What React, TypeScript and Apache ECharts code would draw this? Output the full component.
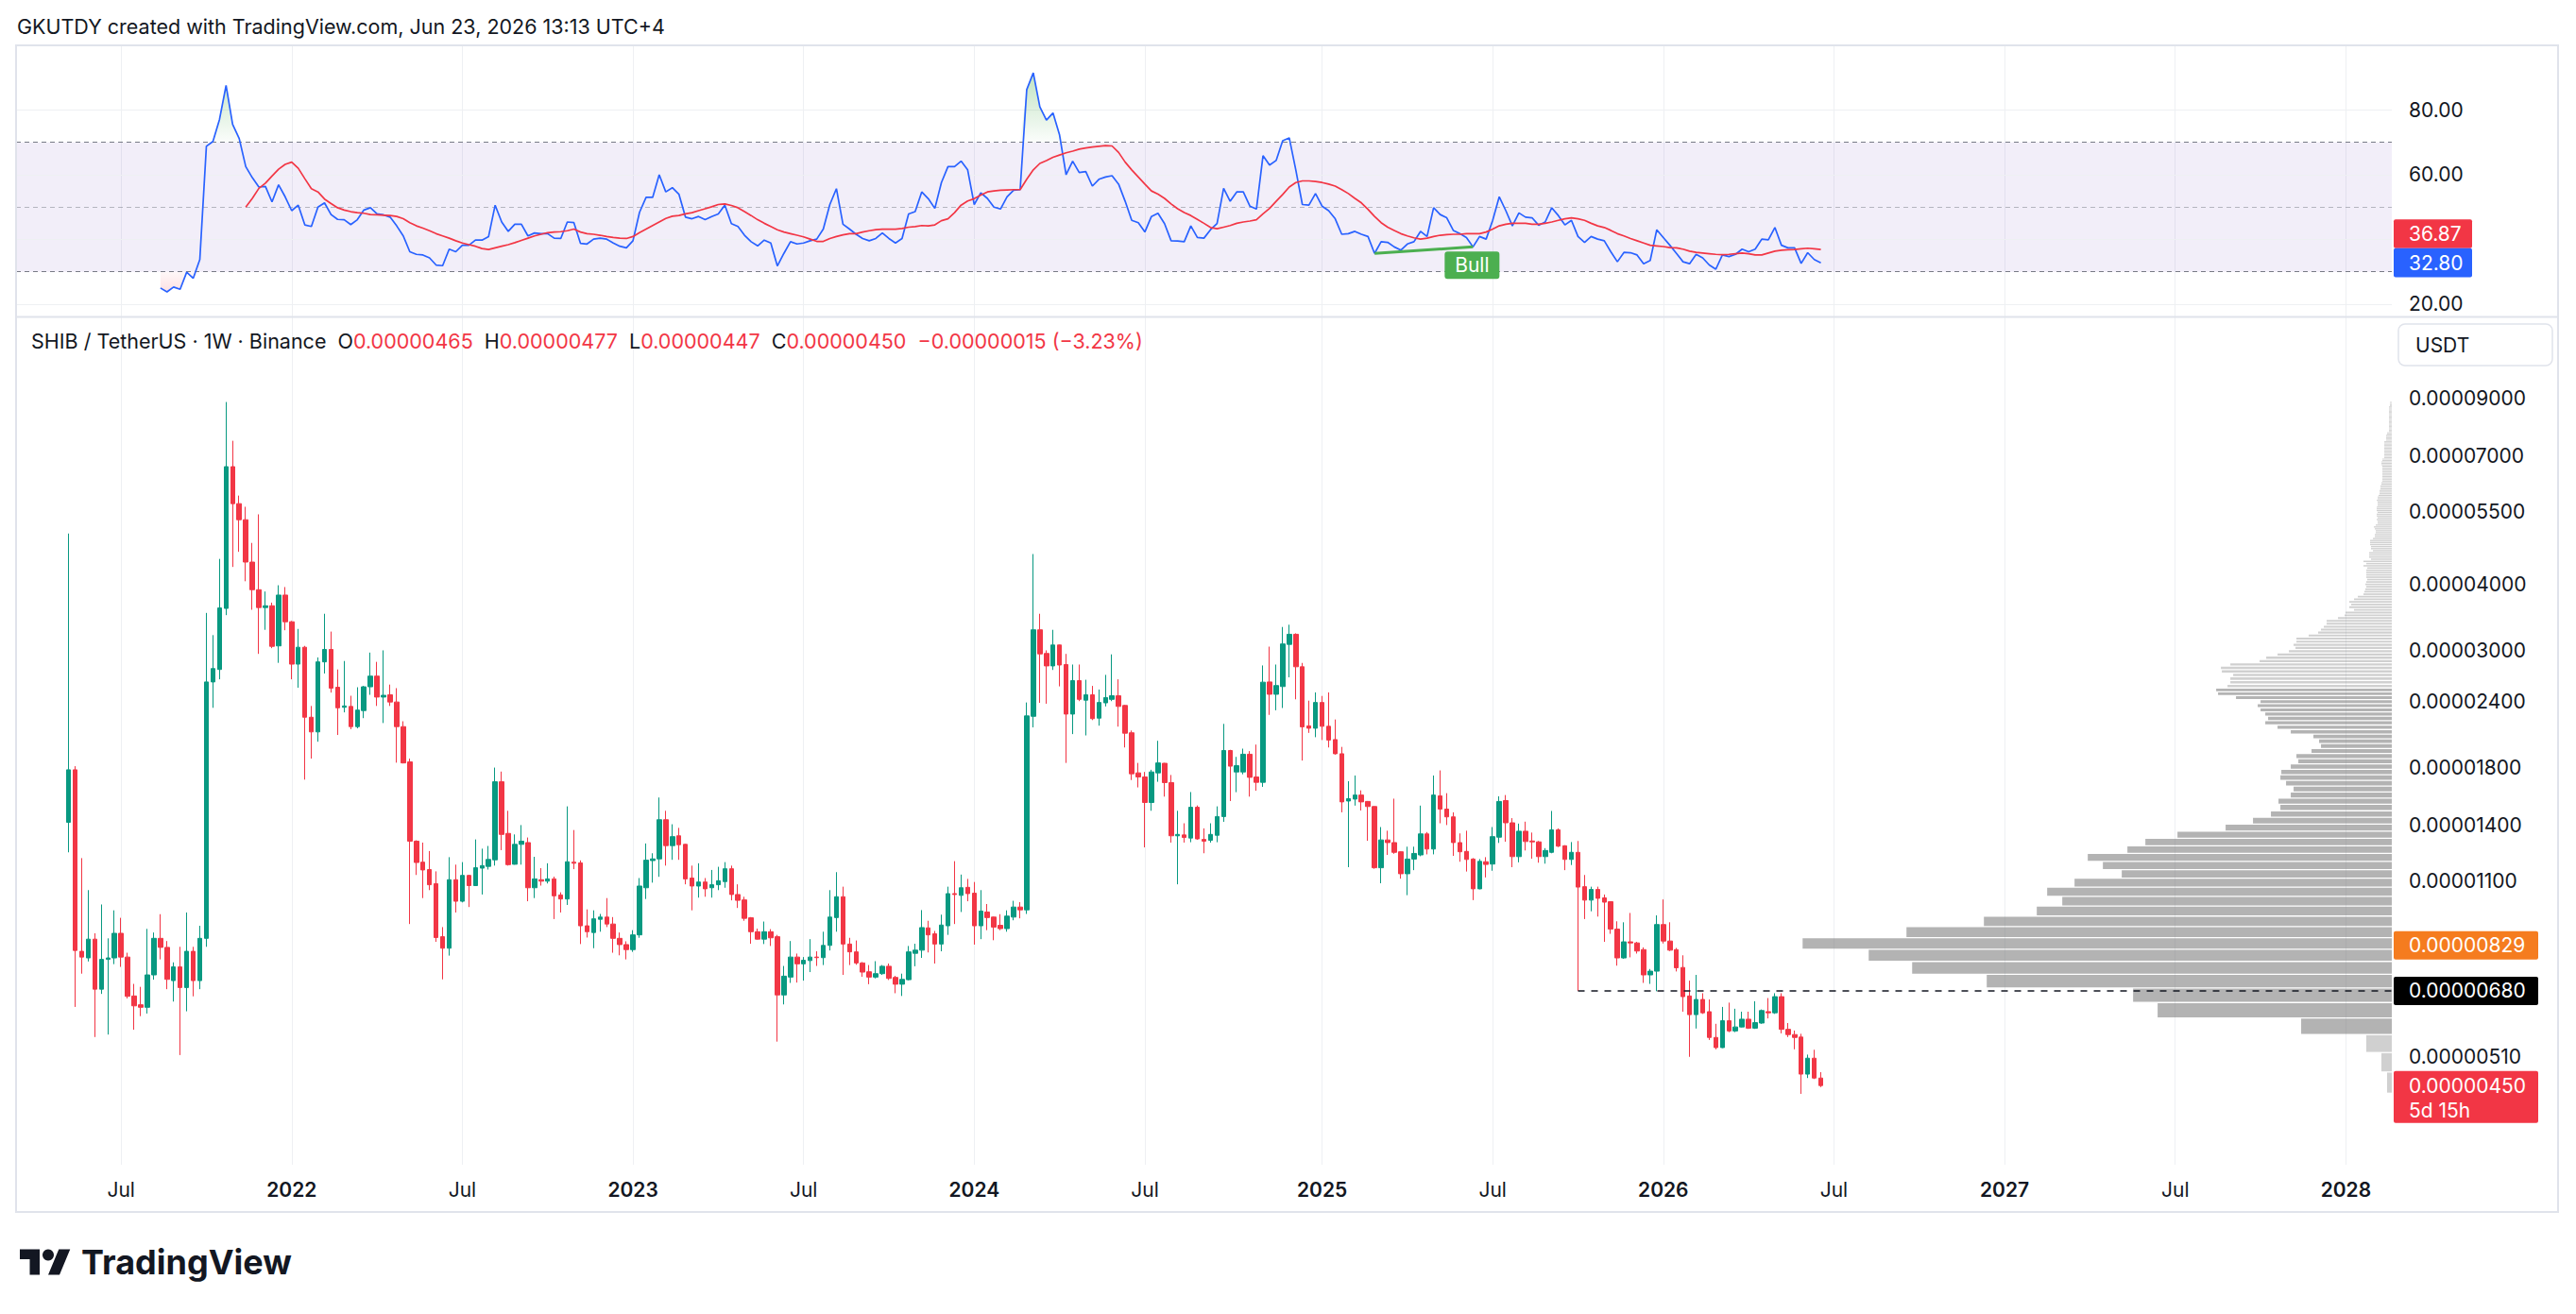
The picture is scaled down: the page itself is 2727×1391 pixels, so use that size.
import React, { useEffect, useRef } from "react";
import * as echarts from "echarts";

// ---------------- data (prices in units of 0.00000001 USDT) ----------------
const PRICE_UNIT = 1e-8;
const FIRST_WEEK = "2021-05-10"; // first weekly candle (Monday)
const LEAD_WEEKS = 8; // empty weekly slots before the first candle
const TRAIL_WEEKS = 87; // empty weekly slots after the last candle

const OPEN = [
  1418, 1783, 808, 785, 852, 685, 780, 785, 874, 788,
  665, 640, 633, 729, 855, 822, 711, 755, 690, 808,
  711, 855, 2615, 2761, 3603, 6685, 5689, 5304, 4410, 3909,
  3617, 3645, 3060, 3819, 3399, 2826, 3042, 2242, 2103, 2854,
  3013, 2555, 2341, 2350, 2152, 2308, 2560, 2682, 2448, 2472,
  2396, 2152, 1845, 1306, 1192, 1154, 1085, 861, 819, 1104,
  1005, 1125, 1076, 1161, 1170, 1204, 1692, 1351, 1181, 1288,
  1298, 1066, 1104, 1097, 1108, 1033, 1015, 1192, 1188, 903,
  877, 929, 938, 910, 855, 832, 814, 868, 1066, 1200,
  1209, 1434, 1281, 1337, 1288, 1112, 1074, 1093, 1066, 1080,
  1095, 1158, 1035, 1011, 935, 880, 852, 880, 861, 668,
  722, 788, 765, 776, 788, 786, 829, 936, 1025, 834,
  806, 768, 739, 722, 733, 757, 721, 700, 714, 801,
  812, 895, 872, 834, 903, 1039, 1031, 1068, 1041, 903,
  959, 938, 905, 892, 938, 980, 968, 2251, 3282, 2961,
  2804, 3072, 2821, 2273, 2630, 2415, 2472, 2233, 2387, 2424,
  2462, 2360, 2095, 1759, 1728, 1546, 1759, 1834, 1686, 1337,
  1342, 1324, 1514, 1316, 1311, 1340, 1454, 1939, 1766, 1766,
  1908, 1728, 1688, 2615, 2478, 2563, 3080, 3219, 2794, 2159,
  2137, 2391, 2155, 2034, 1912, 1556, 1569, 1597, 1553, 1519,
  1163, 1313, 1298, 1247, 1133, 1208, 1230, 1348, 1262, 1591,
  1502, 1452, 1298, 1249, 1208, 1061, 1194, 1182, 1329, 1559,
  1415, 1221, 1364, 1307, 1302, 1221, 1244, 1372, 1280, 1206,
  1244, 1071, 1010, 1058, 1020, 1003, 890, 785, 842, 838,
  814, 729, 741, 908, 845, 814, 753, 665, 613, 655,
  621, 555, 531, 597, 571, 581, 601, 578, 591, 621,
  618, 663, 575, 562, 556, 473, 507, 465,
];
const HIGH = [
  4994, 1811, 1213, 1055, 874, 991, 855, 966, 935, 803,
  701, 692, 891, 877, 950, 845, 770, 824, 957, 824,
  903, 3533, 3207, 4471, 8861, 7483, 5892, 5612, 4794, 5430,
  3879, 3695, 3986, 3955, 3412, 3295, 3060, 2355, 2910, 3520,
  3257, 2761, 2865, 2462, 2555, 2570, 2972, 2854, 3001, 2585,
  2545, 2203, 1872, 1311, 1298, 1251, 1145, 898, 1218, 1179,
  1192, 1127, 1316, 1264, 1279, 1800, 1769, 1491, 1345, 1401,
  1327, 1220, 1161, 1186, 1119, 1045, 1520, 1371, 1201, 970,
  966, 951, 1019, 938, 877, 844, 886, 1112, 1293, 1239,
  1580, 1491, 1406, 1384, 1290, 1174, 1186, 1112, 1152, 1168,
  1192, 1174, 1082, 1025, 938, 892, 920, 890, 868, 758,
  845, 800, 788, 852, 808, 880, 1055, 1141, 1071, 857,
  847, 771, 761, 774, 761, 766, 726, 733, 827, 835,
  967, 923, 883, 948, 1071, 1197, 1129, 1108, 1093, 1055,
  993, 940, 950, 966, 1007, 1001, 2391, 4567, 3520, 3001,
  3282, 3076, 2955, 2821, 2821, 2640, 2570, 2530, 2697, 2949,
  2645, 2365, 2116, 1837, 1766, 1783, 2023, 1837, 1743, 1491,
  1412, 1618, 1526, 1381, 1412, 1520, 2178, 1945, 1886, 1955,
  1934, 1990, 2810, 3050, 2821, 3323, 3356, 3232, 2841, 2410,
  2498, 2460, 2498, 2220, 1970, 1696, 1739, 1630, 1556, 1521,
  1389, 1367, 1572, 1249, 1275, 1275, 1525, 1359, 1739, 1778,
  1610, 1481, 1351, 1367, 1213, 1208, 1218, 1389, 1588, 1597,
  1444, 1410, 1422, 1356, 1307, 1267, 1490, 1381, 1283, 1301,
  1307, 1127, 1071, 1071, 1035, 1005, 921, 917, 955, 842,
  822, 748, 945, 1013, 917, 820, 794, 711, 729, 673,
  655, 589, 634, 646, 629, 621, 621, 650, 627, 659,
  673, 673, 591, 572, 564, 515, 526, 477,
];
const LOW = [
  1244, 634, 733, 773, 556, 671, 562, 764, 755, 658,
  574, 609, 616, 714, 780, 685, 649, 514, 622, 664,
  685, 824, 2336, 2645, 3499, 4317, 4611, 4056, 3582, 2955,
  3282, 3030, 2842, 3276, 2645, 2550, 1708, 1872, 2015, 2713,
  2496, 2075, 2290, 2128, 2136, 2233, 2472, 2355, 2186, 2355,
  1839, 1833, 910, 1127, 1019, 1055, 842, 715, 793, 957,
  1000, 980, 1074, 1035, 1154, 1174, 1256, 1174, 1179, 1179,
  1005, 1019, 1076, 1086, 930, 957, 989, 1156, 834, 858,
  819, 880, 898, 803, 794, 780, 806, 857, 1015, 1090,
  1118, 1174, 1204, 1204, 1082, 966, 1021, 1025, 1021, 1055,
  1066, 1009, 976, 923, 835, 850, 834, 827, 545, 641,
  704, 705, 711, 738, 758, 761, 811, 880, 729, 761,
  762, 723, 700, 718, 729, 713, 673, 665, 712, 757,
  785, 804, 766, 808, 868, 910, 959, 1005, 832, 852,
  886, 848, 886, 880, 925, 933, 951, 2145, 2387, 2378,
  2755, 2565, 1837, 2083, 2405, 2071, 2214, 2161, 2350, 2405,
  2152, 1965, 1705, 1651, 1271, 1491, 1692, 1586, 1298, 1082,
  1298, 1300, 1314, 1239, 1298, 1300, 1421, 1556, 1617, 1748,
  1586, 1627, 1655, 2265, 2311, 2334, 2668, 2424, 1856, 2094,
  2055, 2030, 1965, 1905, 1481, 1166, 1525, 1493, 1308, 1158,
  1087, 1230, 1236, 1109, 1032, 1151, 1223, 1233, 1233, 1412,
  1401, 1225, 1194, 1144, 1010, 1059, 1115, 1148, 1296, 1303,
  1166, 1191, 1254, 1210, 1189, 1184, 1239, 1273, 1151, 1177,
  680, 930, 962, 940, 842, 872, 759, 782, 787, 800,
  704, 701, 679, 836, 809, 740, 621, 510, 577, 615,
  549, 527, 530, 568, 568, 580, 576, 576, 589, 603,
  615, 565, 556, 527, 434, 465, 463, 447,
];
const CLOSE = [
  1783, 811, 788, 852, 685, 780, 785, 874, 788, 664,
  637, 633, 729, 855, 822, 715, 755, 690, 808, 711,
  855, 2615, 2772, 3610, 6685, 5689, 5304, 4410, 3909, 3617,
  3645, 3054, 3819, 3399, 2826, 3042, 2242, 2103, 2854, 3013,
  2545, 2336, 2355, 2152, 2313, 2560, 2682, 2448, 2467, 2396,
  2152, 1837, 1306, 1190, 1152, 1080, 858, 819, 1104, 1005,
  1125, 1076, 1163, 1174, 1206, 1692, 1345, 1179, 1288, 1306,
  1066, 1108, 1097, 1108, 1029, 1015, 1194, 1186, 903, 880,
  931, 938, 910, 855, 832, 814, 868, 1074, 1202, 1209,
  1434, 1281, 1332, 1286, 1108, 1074, 1093, 1061, 1080, 1099,
  1158, 1035, 1009, 933, 880, 852, 880, 857, 668, 725,
  788, 765, 777, 788, 786, 829, 938, 1025, 834, 806,
  768, 738, 722, 733, 757, 718, 700, 715, 806, 812,
  896, 868, 834, 906, 1039, 1035, 1066, 1039, 903, 963,
  936, 898, 892, 942, 980, 968, 2255, 3282, 2955, 2804,
  3072, 2815, 2273, 2630, 2424, 2472, 2228, 2391, 2443, 2462,
  2350, 2091, 1752, 1728, 1546, 1766, 1837, 1686, 1337, 1345,
  1327, 1514, 1319, 1306, 1345, 1454, 1939, 1811, 1815, 1908,
  1725, 1688, 2612, 2478, 2574, 3086, 3219, 2794, 2150, 2137,
  2391, 2155, 2030, 1912, 1550, 1572, 1597, 1550, 1519, 1163,
  1313, 1298, 1244, 1133, 1208, 1238, 1348, 1262, 1597, 1502,
  1452, 1298, 1247, 1206, 1061, 1196, 1180, 1332, 1553, 1415,
  1221, 1364, 1304, 1302, 1221, 1254, 1372, 1278, 1206, 1244,
  1069, 1010, 1058, 1018, 1001, 890, 785, 842, 838, 809,
  729, 741, 908, 845, 812, 752, 663, 613, 655, 618,
  555, 531, 597, 571, 581, 601, 578, 592, 624, 618,
  663, 575, 562, 555, 473, 507, 465, 450,
];

const RSI_START = 14;
const RSI = [
  25.0, 23.8, 25.3, 24.6, 29.9, 28.0, 33.8, 68.8, 70.3, 77.1,
  87.6, 75.6, 71.2, 62.5, 59.1, 56.2, 56.4, 51.6, 56.9, 53.2,
  48.9, 50.6, 44.5, 44.0, 50.0, 51.3, 47.7, 46.2, 46.1, 44.6,
  46.1, 49.1, 49.8, 47.9, 47.6, 46.9, 44.2, 41.1, 36.2, 35.4,
  35.2, 34.3, 32.1, 31.9, 37.0, 36.2, 38.2, 38.2, 39.8, 39.8,
  40.9, 50.6, 45.4, 42.5, 44.7, 44.7, 41.1, 42.0, 41.8, 41.8,
  40.4, 40.3, 45.4, 45.2, 38.8, 38.6, 40.1, 40.4, 40.1, 38.9,
  37.9, 37.4, 39.6, 48.4, 53.0, 53.0, 60.0, 54.7, 56.0, 54.0,
  46.9, 46.4, 47.1, 46.1, 47.1, 47.9, 50.6, 44.9, 44.0, 41.3,
  39.3, 38.0, 39.8, 38.9, 31.8, 35.7, 39.3, 38.6, 38.9, 39.6,
  40.1, 43.2, 50.8, 55.7, 44.7, 43.2, 41.6, 40.3, 39.6, 40.3,
  42.0, 40.3, 38.9, 40.3, 47.9, 48.6, 54.7, 52.6, 49.6, 57.6,
  62.5, 62.5, 64.2, 61.5, 50.8, 54.4, 52.7, 50.0, 49.4, 53.2,
  55.2, 55.4, 86.3, 91.5, 81.0, 76.9, 79.1, 72.3, 60.0, 64.2,
  60.7, 61.0, 56.5, 58.6, 59.3, 59.7, 57.1, 51.8, 45.9, 45.2,
  42.3, 47.1, 48.1, 44.9, 39.6, 39.5, 39.3, 44.2, 40.6, 40.4,
  43.0, 44.9, 55.8, 51.8, 54.7, 54.7, 50.3, 49.4, 65.9, 63.0,
  64.4, 70.5, 71.4, 61.5, 50.8, 50.6, 54.2, 50.3, 48.9, 46.4,
  41.6, 41.8, 42.5, 41.6, 40.9, 35.7, 39.3, 39.1, 37.7, 36.7,
  38.6, 39.3, 42.5, 40.9, 49.8, 47.7, 46.7, 42.8, 41.8, 40.6,
  37.7, 40.9, 40.1, 45.9, 53.2, 48.9, 44.2, 48.2, 46.9, 46.7,
  44.4, 45.4, 49.8, 47.4, 44.5, 45.9, 40.9, 39.1, 40.9, 40.1,
  39.6, 36.2, 33.1, 36.0, 35.9, 35.2, 32.5, 33.5, 43.0, 40.6,
  38.2, 35.7, 33.1, 32.5, 35.4, 34.3, 32.1, 30.8, 35.2, 34.7,
  35.4, 37.0, 36.2, 37.0, 40.1, 39.9, 43.7, 38.2, 37.4, 37.4,
  32.6, 35.9, 33.8, 32.8,
];
const RSI_MA_START = 27;
const RSI_MA = [
  50.0, 52.7, 55.8, 57.4, 59.6, 61.7, 63.2,
  63.9, 62.0, 58.8, 55.7, 54.7, 52.5, 51.1, 49.8, 49.1, 48.6,
  48.3, 48.1, 47.7, 47.6, 47.5, 47.4, 47.1, 46.4, 45.2, 44.2,
  43.5, 42.7, 41.8, 41.1, 40.4, 39.6, 38.9, 38.4, 37.9, 37.2,
  36.9, 37.4, 37.9, 38.4, 39.0, 39.7, 40.4, 41.1, 41.6, 42.1,
  42.3, 42.4, 42.7, 43.2, 42.3, 41.8, 41.6, 41.3, 40.9, 40.6,
  40.4, 40.3, 40.9, 42.1, 43.2, 44.3, 45.4, 46.5, 47.2, 47.4,
  47.9, 48.3, 48.9, 49.5, 50.1, 50.8, 51.0, 50.5, 49.8, 48.6,
  47.4, 46.1, 45.0, 44.0, 43.0, 42.3, 41.8, 41.3, 40.8, 40.1,
  39.4, 39.4, 40.3, 40.9, 41.4, 41.8, 41.8, 42.3, 42.7, 43.0,
  43.2, 43.2, 43.2, 43.4, 43.8, 44.0, 44.3, 44.2, 44.5, 45.8,
  46.4, 48.3, 50.6, 51.9, 52.6, 53.7, 54.7, 55.0, 55.2, 55.3,
  55.4, 55.4, 58.6, 61.5, 63.5, 64.4, 65.4, 66.1, 66.8, 67.3,
  67.9, 68.3, 68.6, 68.8, 69.0, 68.9, 66.9, 63.9, 61.5, 59.3,
  57.1, 55.0, 54.0, 52.7, 51.0, 49.5, 48.3, 47.4, 46.2, 45.0,
  43.7, 43.3, 43.8, 44.3, 45.0, 45.4, 45.7, 46.1, 47.9, 49.6,
  51.8, 53.9, 56.2, 57.6, 58.1, 58.1, 57.9, 57.6, 57.1, 56.5,
  55.4, 54.2, 52.7, 51.3, 49.3, 47.1, 45.2, 43.8, 42.8, 41.8,
  41.1, 40.5, 40.1, 40.4, 40.9, 41.3, 41.5, 41.6, 41.6, 41.8,
  41.8, 41.8, 42.3, 43.2, 44.2, 44.7, 45.0, 45.0, 45.0, 44.7,
  44.7, 45.0, 45.4, 45.9, 46.4, 46.7, 46.4, 45.9, 45.0, 44.2,
  43.7, 42.8, 41.8, 41.1, 40.3, 39.6, 38.9, 38.2, 38.0, 37.8,
  37.5, 37.4, 37.0, 36.4, 36.0, 35.8, 35.6, 35.4, 35.3, 35.4,
  35.6, 35.8, 35.6, 35.2, 35.2, 35.8, 36.4, 36.7, 36.8, 36.9,
  37.1, 37.3, 37.1, 36.87,
];
const BULL_DIVERGENCE = [199, 214]; // candle indices joined by the divergence line

// Visible-range volume profile: 200 equal price rows from the lowest low to the highest high
const VP_VOLUME = [
  5, 11, 27, 96, 248, 274, 429, 508, 554, 624,
  514, 432, 376, 349, 365, 336, 286, 306, 322, 280,
  261, 227, 176, 147, 128, 118, 120, 107, 104, 112,
  118, 117, 107, 99, 101, 85, 75, 77, 83, 107,
  121, 134, 131, 134, 139, 142, 139, 165, 184, 186,
  174, 171, 171, 168, 180, 181, 171, 140, 133, 121,
  109, 102, 104, 101, 101, 88, 78, 75, 72, 69,
  69, 57, 50, 49, 40, 45, 43, 45, 40, 36,
  30, 29, 28, 27, 28, 27, 26, 27, 27, 27,
  27, 26, 30, 27, 30, 22, 24, 24, 24, 20,
  22, 22, 23, 23, 23, 20, 18, 18, 17, 17,
  18, 19, 17, 15, 15, 16, 15, 16, 16, 15,
  16, 16, 16, 15, 15, 15, 16, 15, 15, 14,
  13, 13, 13, 12, 12, 12, 11, 11, 10, 10,
  10, 10, 10, 10, 10, 10, 10, 10, 10, 11,
  11, 11, 10, 10, 8, 8, 8, 8, 8, 8,
  8, 8, 8, 8, 8, 8, 8, 6, 6, 6,
  6, 6, 5, 5, 3, 3, 3, 3, 3, 3,
  3, 3, 3, 3, 3, 3, 3, 3, 3, 3,
  3, 3, 3, 3, 3, 3, 2, 2, 2, 2,
];
const VP_VALUE_AREA = [3, 49]; // first and last row of the value area

const PRICE_TICKS = [9e-5, 7e-5, 5.5e-5, 4e-5, 3e-5, 2.4e-5, 1.8e-5, 1.4e-5, 1.1e-5, 8.5e-6, 6.5e-6, 5.1e-6, 3.9e-6];
const RSI_TICKS = [20, 40, 60, 80];
const POC_PRICE = 0.00000829;
const RAY_PRICE = 0.0000068;
const RAY_START = 230;
const COUNTDOWN = "5d 15h";
const HEADER = "GKUTDY created with TradingView.com, Jun 23, 2026 13:13 UTC+4";
const SYMBOL = "SHIB / TetherUS · 1W · Binance";
const CURRENCY = "USDT";

// ---------------- layout ----------------
const W = 2727;
const H = 1391;
const PLOT_L = 17;
const PLOT_R = 2532;
const MAIN_TOP = 336;
const MAIN_BOTTOM = 1233;
const RSI_TOP = 48;
const RSI_BOTTOM = 335;
const Y_MIN = 3.1861e-6;
const Y_MAX = 1.28147e-4;
const RSI_MIN = 16.2;
const RSI_MAX = 100;
const PROFILE_SHARE = 0.248;

const FONT = "Inter, 'Noto Sans', sans-serif";
const TXT = "#131722";
const GRID = "#eef0f3";
const UP = "#089981";
const DOWN = "#f23645";
const BLUE = "#2962ff";
const ORANGE = "#f57c1f";
const FS = 21;
const FS_TOP = 21.5;

const LOGO_D = "M14 22H7V11H0V4h14v18zM28 22h-8l7.5-18h8L28 22z";
let logoRegistered = false;

export default function App() {
  const ref = useRef<HTMLDivElement>(null);

  useEffect(() => {
    if (!logoRegistered) {
      echarts.graphic.registerShape("tvlogo", echarts.graphic.extendPath(LOGO_D, {}) as any);
      logoRegistered = true;
    }
    const chart = echarts.init(ref.current as HTMLDivElement, null, { renderer: "svg", width: W, height: H });

    const DAY = 86400000;
    const t0 = Date.parse(FIRST_WEEK + "T00:00:00Z") - LEAD_WEEKS * 7 * DAY;
    const n = LEAD_WEEKS + OPEN.length + TRAIL_WEEKS;
    const cats = Array.from({ length: n }, (_, i) => new Date(t0 + i * 7 * DAY).toISOString().slice(0, 10));
    const isTick = (v: string) => {
      const m = +v.slice(5, 7);
      const d = +v.slice(8, 10);
      return (m === 1 || m === 7) && d <= 7;
    };
    const cat = (c: number) => cats[c + LEAD_WEEKS];
    const pad = (start: number, arr: number[]) =>
      cats.map((_, i) => {
        const c = i - LEAD_WEEKS - start;
        return c >= 0 && c < arr.length ? arr[c] : null;
      });

    const candles = cats.map((_, i) => {
      const c = i - LEAD_WEEKS;
      return c >= 0 && c < OPEN.length
        ? [OPEN[c] * PRICE_UNIT, CLOSE[c] * PRICE_UNIT, LOW[c] * PRICE_UNIT, HIGH[c] * PRICE_UNIT]
        : "-";
    });
    const last = OPEN.length - 1;
    const lastClose = CLOSE[last] * PRICE_UNIT;

    const rsi = pad(RSI_START, RSI);
    const rsiMa = pad(RSI_MA_START, RSI_MA);
    const obBase = rsi.map((v) => (v == null ? null : 70));
    const obFill = rsi.map((v) => (v == null ? null : Math.max(v - 70, 0)));
    const osBase = rsi.map((v) => (v == null ? null : Math.min(v, 30)));
    const osFill = rsi.map((v) => (v == null ? null : 30 - Math.min(v, 30)));

    const vpLo = Math.min(...LOW) * PRICE_UNIT;
    const vpHi = Math.max(...HIGH) * PRICE_UNIT;
    const step = (vpHi - vpLo) / VP_VOLUME.length;
    const vpData = VP_VOLUME.map((v, k) => [
      v,
      vpLo + k * step,
      vpLo + (k + 1) * step,
      k >= VP_VALUE_AREA[0] && k <= VP_VALUE_AREA[1] ? 1 : 0,
    ]);
    const vpMax = Math.max(...VP_VOLUME) / PROFILE_SHARE;

    const bullA = BULL_DIVERGENCE[0];
    const bullB = BULL_DIVERGENCE[1];

    const splitLine = { show: true, interval: (_i: number, v: string) => isTick(v), lineStyle: { color: GRID, width: 1 } };

    const option: any = {
      animation: false,
      backgroundColor: "#ffffff",
      textStyle: { fontFamily: FONT },
      grid: [
        { left: PLOT_L, right: W - PLOT_R, top: MAIN_TOP, height: MAIN_BOTTOM - MAIN_TOP },
        { left: PLOT_L, right: W - PLOT_R, top: RSI_TOP, height: RSI_BOTTOM - RSI_TOP },
      ],
      xAxis: [
        {
          type: "category",
          gridIndex: 0,
          data: cats,
          boundaryGap: false,
          axisLine: { show: false },
          axisTick: { show: false },
          axisLabel: {
            interval: (_i: number, v: string) => isTick(v),
            margin: 16,
            formatter: (v: string) => (+v.slice(5, 7) === 1 ? `{y|${v.slice(0, 4)}}` : "{m|Jul}"),
            rich: {
              y: { fontSize: FS, fontWeight: 600, color: TXT, fontFamily: FONT },
              m: { fontSize: FS, color: TXT, fontFamily: FONT },
            },
          },
          splitLine,
        },
        { type: "value", gridIndex: 0, show: false, inverse: true, min: 0, max: vpMax, splitLine: { show: false } },
        {
          type: "category",
          gridIndex: 1,
          data: cats,
          boundaryGap: false,
          axisLine: { show: false },
          axisTick: { show: false },
          axisLabel: { show: false },
          splitLine,
        },
      ],
      yAxis: [
        { type: "log", logBase: 10, gridIndex: 0, min: Y_MIN, max: Y_MAX, show: false, splitLine: { show: false } },
        { type: "value", gridIndex: 1, min: RSI_MIN, max: RSI_MAX, show: false, splitLine: { show: false } },
      ],
      series: [
        {
          type: "line",
          name: "price grid",
          xAxisIndex: 0,
          yAxisIndex: 0,
          data: [],
          z: 0,
          silent: true,
          markLine: {
            silent: true,
            z: 0,
            symbol: ["none", "none"],
            label: { show: false },
            lineStyle: { color: GRID, width: 1, type: "solid" },
            data: PRICE_TICKS.map((v) => ({ yAxis: v })),
          },
        },
        {
          type: "custom",
          name: "Volume profile",
          xAxisIndex: 1,
          yAxisIndex: 0,
          z: 1,
          silent: true,
          data: vpData,
          renderItem: (_p: any, api: any) => {
            const v = api.value(0);
            const lo = api.value(1);
            const hi = api.value(2);
            const va = api.value(3);
            const tl = api.coord([v, hi]);
            const br = api.coord([0, lo]);
            const h = br[1] - tl[1];
            const gap = Math.min(1.3, h * 0.35);
            return {
              type: "rect",
              shape: { x: tl[0], y: tl[1], width: br[0] - tl[0], height: Math.max(h - gap, 0.7) },
              style: { fill: va ? "rgba(110,110,110,0.52)" : "rgba(110,110,110,0.32)" },
            };
          },
        },
        {
          type: "candlestick",
          name: "SHIBUSDT",
          xAxisIndex: 0,
          yAxisIndex: 0,
          z: 3,
          barWidth: 5,
          data: candles,
          itemStyle: { color: UP, color0: DOWN, borderColor: UP, borderColor0: DOWN, borderWidth: 1 },
        },
        {
          type: "line",
          name: "levels",
          xAxisIndex: 0,
          yAxisIndex: 0,
          data: [],
          z: 6,
          silent: true,
          markLine: {
            silent: true,
            z: 6,
            symbol: ["none", "none"],
            label: { show: false },
            data: [
              { yAxis: POC_PRICE, lineStyle: { color: "rgba(242,124,31,0.5)", width: 3.5, type: "solid" } },
              [
                { coord: [cat(RAY_START), RAY_PRICE], lineStyle: { color: TXT, width: 1.6, type: [7, 7] } },
                { coord: [cats[n - 1], RAY_PRICE] },
              ],
              { yAxis: lastClose, lineStyle: { color: DOWN, width: 1.3, type: [1.5, 3] } },
            ],
          },
        },
        {
          type: "line",
          name: "rsi guides",
          xAxisIndex: 2,
          yAxisIndex: 1,
          data: [],
          z: 0,
          silent: true,
          markArea: {
            silent: true,
            z: 0,
            itemStyle: { color: "rgba(126,87,194,0.1)" },
            data: [[{ yAxis: 30 }, { yAxis: 70 }]],
          },
          markLine: {
            silent: true,
            z: 1,
            symbol: ["none", "none"],
            label: { show: false },
            data: [
              ...RSI_TICKS.map((v) => ({ yAxis: v, lineStyle: { color: GRID, width: 1, type: "solid" } })),
              { yAxis: 70, lineStyle: { color: "#787b86", width: 1.2, type: [5, 4] } },
              { yAxis: 50, lineStyle: { color: "rgba(120,123,134,0.5)", width: 1.2, type: [5, 4] } },
              { yAxis: 30, lineStyle: { color: "#787b86", width: 1.2, type: [5, 4] } },
            ],
          },
        },
        {
          type: "line", name: "ob base", xAxisIndex: 2, yAxisIndex: 1, stack: "ob", data: obBase,
          symbol: "none", silent: true, z: 2, lineStyle: { opacity: 0 },
        },
        {
          type: "line", name: "ob fill", xAxisIndex: 2, yAxisIndex: 1, stack: "ob", data: obFill,
          symbol: "none", silent: true, z: 2, lineStyle: { opacity: 0 },
          areaStyle: {
            color: new echarts.graphic.LinearGradient(0, 0, 0, 1, [
              { offset: 0, color: "rgba(76,175,80,0.5)" },
              { offset: 1, color: "rgba(76,175,80,0.03)" },
            ]),
          },
        },
        {
          type: "line", name: "os base", xAxisIndex: 2, yAxisIndex: 1, stack: "os", data: osBase,
          symbol: "none", silent: true, z: 2, lineStyle: { opacity: 0 },
        },
        {
          type: "line", name: "os fill", xAxisIndex: 2, yAxisIndex: 1, stack: "os", data: osFill,
          symbol: "none", silent: true, z: 2, lineStyle: { opacity: 0 },
          areaStyle: {
            color: new echarts.graphic.LinearGradient(0, 0, 0, 1, [
              { offset: 0, color: "rgba(242,54,69,0.05)" },
              { offset: 1, color: "rgba(242,54,69,0.22)" },
            ]),
          },
        },
        {
          type: "line",
          name: "RSI",
          xAxisIndex: 2,
          yAxisIndex: 1,
          data: rsi,
          symbol: "none",
          z: 4,
          lineStyle: { color: BLUE, width: 1.7 },
          markLine: {
            silent: true,
            z: 5,
            symbol: ["none", "none"],
            label: { show: false },
            lineStyle: { color: "#4caf50", width: 3, type: "solid" },
            data: [[
              { coord: [cat(bullA), RSI[bullA - RSI_START]] },
              { coord: [cat(bullB), RSI[bullB - RSI_START]] },
            ]],
          },
        },
        {
          type: "line",
          name: "RSI-based MA",
          xAxisIndex: 2,
          yAxisIndex: 1,
          data: rsiMa,
          symbol: "none",
          z: 4,
          lineStyle: { color: DOWN, width: 1.7 },
        },
      ],
    };

    chart.setOption(option);

    // ---- annotations placed through the chart's own scales ----
    const axisX = chart.convertToPixel({ xAxisIndex: 0 } as any, cats[n - 1]) as unknown as number;
    const py = (v: number) => chart.convertToPixel({ yAxisIndex: 0 } as any, v) as unknown as number;
    const ry = (v: number) => chart.convertToPixel({ yAxisIndex: 1 } as any, v) as unknown as number;
    const labelX = axisX + 18;
    const f8 = (v: number) => v.toFixed(8);

    const txt = (text: string, x: number, y: number, extra: any = {}, z = 50) => ({
      type: "text",
      x,
      y,
      silent: true,
      z,
      style: { text, fill: TXT, fontSize: FS, fontFamily: FONT, align: "left", verticalAlign: "middle", ...extra },
    });
    const tagBoxes: number[][] = []; // [top, bottom] of tags on the price scale column
    const elements: any[] = [];
    const tag = (text: string, y: number, color: string, w: number, h = 30) => {
      tagBoxes.push([y - h / 2, y + h / 2]);
      elements.push({ type: "rect", silent: true, z: 60, shape: { x: axisX + 2, y: y - h / 2, width: w, height: h, r: 2 }, style: { fill: color } });
      elements.push(txt(text, labelX, y, { fill: "#ffffff" }, 61));
    };

    // frame
    elements.push({ type: "rect", silent: true, z: 40, shape: { x: PLOT_L, y: RSI_TOP, width: 2708 - PLOT_L, height: 1283 - RSI_TOP }, style: { fill: "none", stroke: "#e0e3eb", lineWidth: 2 } });
    elements.push({ type: "line", silent: true, z: 40, shape: { x1: PLOT_L, y1: RSI_BOTTOM + 0.5, x2: 2708, y2: RSI_BOTTOM + 0.5 }, style: { stroke: "#e0e3eb", lineWidth: 2 } });
    // header and legend
    elements.push(txt(HEADER, 18, 28, { fontSize: FS_TOP }));
    const o = OPEN[last] * PRICE_UNIT;
    const hi = HIGH[last] * PRICE_UNIT;
    const lo = LOW[last] * PRICE_UNIT;
    const prev = CLOSE[last - 1] * PRICE_UNIT;
    const chg = lastClose - prev;
    const sign = chg < 0 ? "\u2212" : "+";
    const pct = ((Math.abs(chg) / prev) * 100).toFixed(2);
    elements.push({
      type: "text", x: 33, y: 361, silent: true, z: 50,
      style: {
        text: `{k|${SYMBOL}}  {k|O}{v|${f8(o)}}  {k|H}{v|${f8(hi)}}  {k|L}{v|${f8(lo)}}  {k|C}{v|${f8(lastClose)}}  {v|${sign}${f8(Math.abs(chg))} (${sign}${pct}%)}`,
        fontSize: FS_TOP, fontFamily: FONT, verticalAlign: "middle", align: "left",
        rich: { k: { fill: TXT, fontSize: FS_TOP, fontFamily: FONT }, v: { fill: DOWN, fontSize: FS_TOP, fontFamily: FONT } },
      },
    });
    // currency box
    elements.push({ type: "rect", silent: true, z: 50, shape: { x: axisX + 7, y: 343, width: 163, height: 44, r: 7 }, style: { fill: "#ffffff", stroke: "#e0e3eb", lineWidth: 1.5 } });
    elements.push(txt(CURRENCY, axisX + 25, 365));

    // price tags
    tag(f8(POC_PRICE), py(POC_PRICE), ORANGE, 153);
    tag(f8(RAY_PRICE), py(RAY_PRICE), "#000000", 153);
    const yLast = py(lastClose);
    tagBoxes.push([yLast - 15.5, yLast + 39.5]);
    elements.push({ type: "rect", silent: true, z: 60, shape: { x: axisX + 2, y: yLast - 15.5, width: 153, height: 55, r: 2 }, style: { fill: DOWN } });
    elements.push(txt(f8(lastClose), labelX, yLast, { fill: "#ffffff" }, 61));
    elements.push(txt(COUNTDOWN, labelX, yLast + 26, { fill: "#ffffff" }, 61));
    const priceTagBoxes = tagBoxes.slice();
    // RSI tags
    const rsiLast = RSI[RSI.length - 1];
    const maLast = RSI_MA[RSI_MA.length - 1];
    const yR = ry(rsiLast);
    const yM = Math.min(ry(maLast), yR - 30.6);
    tag(maLast.toFixed(2), yM, DOWN, 83, 30.6);
    tag(rsiLast.toFixed(2), yR, BLUE, 83, 30.6);
    const rsiTagBoxes = tagBoxes.slice(priceTagBoxes.length);

    // axis labels (the ones hidden behind a tag are left out, as on the price scale)
    const free = (y: number, boxes: number[][]) => boxes.every(([t, b]) => y + 10 < t || y - 10 > b);
    PRICE_TICKS.forEach((v) => {
      const y = py(v);
      if (free(y, priceTagBoxes)) elements.push(txt(f8(v), labelX, y));
    });
    RSI_TICKS.forEach((v) => {
      const y = ry(v);
      if (free(y, rsiTagBoxes)) elements.push(txt(v.toFixed(2), labelX, y));
    });

    // divergence label
    const pB = chart.convertToPixel({ gridIndex: 1 } as any, [cat(bullB), RSI[bullB - RSI_START]]) as unknown as number[];
    elements.push({ type: "rect", silent: true, z: 55, shape: { x: pB[0] - 30, y: pB[1] + 5, width: 58, height: 29, r: 3 }, style: { fill: "#4caf50" } });
    elements.push(txt("Bull", pB[0] - 1, pB[1] + 19.5, { fill: "#ffffff", align: "center" }, 56));
    // logo
    elements.push({ type: "tvlogo", x: 21, y: 1316.5, scaleX: 1.5, scaleY: 1.5, silent: true, style: { fill: TXT } });
    elements.push({ type: "circle", silent: true, shape: { cx: 21 + 20 * 1.5, cy: 1316.5 + 8 * 1.5, r: 6 }, style: { fill: TXT } });
    elements.push(txt("TradingView", 86, 1336, { fontSize: 36, fontWeight: 700 }));

    chart.setOption({ graphic: elements });

    return () => chart.dispose();
  }, []);

  return <div ref={ref} style={{ position: "fixed", left: 0, top: 0, width: W, height: H, background: "#ffffff" }} />;
}
